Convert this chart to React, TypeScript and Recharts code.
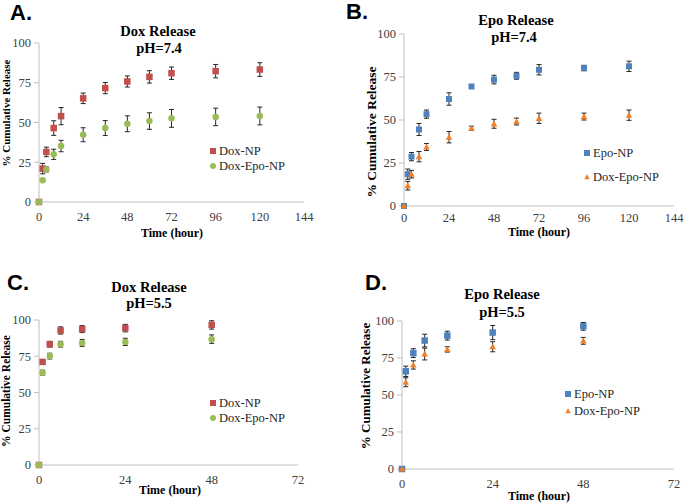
import React from "react";
import {
  ScatterChart,
  Scatter,
  XAxis,
  YAxis,
  ErrorBar,
} from "recharts";

// hours sampled
const hours74 = [0, 2, 4, 8, 12, 24, 36, 48, 60, 72, 96, 120];
const hours55 = [0, 1, 3, 6, 12, 24, 48];

// A: Dox release pH 7.4
const doxNP74 = [0, 21, 31.5, 46.5, 54, 65.2, 71.6, 75.8, 78.7, 81, 82.3, 83.3];
const doxNP74Err = [null, 3.3, 3, 4.6, 5.4, 3.3, 3.5, 3.5, 3.9, 3.9, 4.2, 4.3];
const doxEpo74 = [0, 13.7, 20.5, 30, 35.2, 42.3, 46.5, 49.2, 50.9, 52.6, 53.5, 54.1];
const doxEpo74Err = [null, 0.6, 1.6, 3.2, 3.6, 4.4, 4.7, 5, 5.2, 5.6, 5.5, 5.6];

// B: Epo release pH 7.4
const epoNP74 = [0, 18.5, 28.7, 44.5, 53.4, 62.2, 69.5, 73.5, 75.7, 79.2, 80.2, 81.2];
const epoNP74Err = [null, 3, 2.4, 3.5, 2.4, 3.6, null, 2.5, 2, 3, 1.6, 3];
const epoDox74 = [0, 11.8, 18.5, 28.7, 34.3, 40, 45.2, 47.8, 49.1, 51, 52, 52.8];
const epoDox74Err = [null, 2.5, 2.2, 3, 2, 3.3, 1.2, 2.6, 2, 3, 2, 3];

// C: Dox release pH 5.5
const doxNP55 = [0, 71.1, 83.3, 92.8, 93.7, 94.4, 96.6];
const doxNP55Err = [null, 1.6, 2, 2.5, 2.4, 2.6, 2.9];
const doxEpo55 = [0, 63.7, 75.1, 83.3, 84.2, 84.9, 86.8];
const doxEpo55Err = [null, 1.7, 2, 2, 2.4, 2.5, 2.9];

// D: Epo release pH 5.5
const epoNP55 = [0, 66, 78.3, 86.8, 90.1, 92.2, 96.4];
const epoNP55Err = [null, 3.5, 3, 4.3, 3, 4.8, 2.6];
const epoDox55 = [0, 58.6, 70.3, 77.7, 80.8, 82.6, 86.6];
const epoDox55Err = [null, 3, 2.8, 4, 1.8, 3.4, 2.3];

const yTicks = [0, 25, 50, 75, 100];
const xTicks74 = [0, 24, 48, 72, 96, 120, 144];
const xTicks55 = [0, 24, 48, 72];

const RED = "#C0504D";
const GREEN = "#9BBB59";
const BLUE = "#4F81BD";
const ORANGE = "#F07E26";
const SERIF = "Liberation Serif, Times New Roman, serif";

const rows = (t: number[], v: number[], e: (number | null)[]) =>
  t.map((x, i) => ({ t: x, v: v[i], e: e[i] }));

type Shape = "square" | "circle" | "triangle";

type Series = {
  name: string;
  color: string;
  shape: Shape;
  px: number;
  data: { t: number; v: number; e: number | null }[];
};

function Marker({ shape, color, px, cx, cy }: { shape: Shape; color: string; px: number; cx: number; cy: number }) {
  const h = px / 2;
  if (shape === "square") return <rect x={cx - h} y={cy - h} width={px} height={px} fill={color} />;
  if (shape === "circle") return <circle cx={cx} cy={cy} r={h} fill={color} />;
  return (
    <polygon
      points={`${cx},${cy - h} ${cx + h},${cy + h * 0.8} ${cx - h},${cy + h * 0.8}`}
      fill={color}
    />
  );
}

type PanelProps = {
  left: number;
  top: number;
  width: number;
  height: number;
  margin: { top: number; right: number; bottom: number; left: number };
  xTicks: number[];
  tickGap?: number;
  series: Series[];
};

function Panel({ left, top, width, height, margin, xTicks, tickGap = 10, series }: PanelProps) {
  const xMax = xTicks[xTicks.length - 1];
  return (
    <div style={{ position: "absolute", left, top }}>
      <ScatterChart width={width} height={height} margin={margin}>
        <XAxis
          type="number"
          dataKey="t"
          domain={[0, xMax]}
          ticks={xTicks}
          interval={0}
          height={25}
          tickSize={0}
          tickMargin={tickGap}
          stroke="#BFBFBF"
          tick={{ fill: "#404040", fontSize: 12.5, fontFamily: SERIF }}
        />
        <YAxis
          type="number"
          dataKey="v"
          domain={[0, 100]}
          ticks={yTicks}
          interval={0}
          width={30}
          tickSize={5}
          tickMargin={3}
          stroke="#BFBFBF"
          tick={{ fill: "#404040", fontSize: 12.5, fontFamily: SERIF }}
        />
        {series.map((s) => (
          <Scatter
            key={s.name}
            name={s.name}
            data={s.data}
            fill={s.color}
            shape={(p: any) => <Marker shape={s.shape} color={s.color} px={s.px} cx={p.cx} cy={p.cy} />}
            isAnimationActive={false}
          >
            <ErrorBar dataKey="e" direction="y" width={2.5} stroke="#262626" strokeWidth={1} />
          </Scatter>
        ))}
      </ScatterChart>
    </div>
  );
}

function Txt({
  x,
  y,
  children,
  size,
  bold,
  rotate,
  font = SERIF,
  color = "#000",
}: {
  x: number;
  y: number;
  children: React.ReactNode;
  size: number;
  bold?: boolean;
  rotate?: boolean;
  font?: string;
  color?: string;
}) {
  return (
    <div
      style={{
        position: "absolute",
        left: x,
        top: y,
        transform: `translate(-50%, -50%)${rotate ? " rotate(-90deg)" : ""}`,
        fontFamily: font,
        fontSize: size,
        fontWeight: bold ? 700 : 400,
        color,
        whiteSpace: "nowrap",
        lineHeight: 1,
      }}
    >
      {children}
    </div>
  );
}

function LegendBox({
  x,
  y,
  gap,
  textDx,
  items,
}: {
  x: number;
  y: number;
  gap: number;
  textDx: number;
  items: Series[];
}) {
  return (
    <>
      {items.map((s, i) => (
        <div key={s.name} style={{ position: "absolute", left: x, top: y + i * gap }}>
          <svg width={8} height={8} style={{ position: "absolute", left: -4, top: -4 }}>
            <Marker shape={s.shape} color={s.color} px={s.shape === "triangle" ? 5.5 : 6} cx={4} cy={4} />
          </svg>
          <div
            style={{
              position: "absolute",
              left: textDx,
              top: -7,
              fontFamily: SERIF,
              fontSize: 12.5,
              color: "#262626",
              whiteSpace: "nowrap",
              lineHeight: "14px",
            }}
          >
            {s.name}
          </div>
        </div>
      ))}
    </>
  );
}

export default function App() {
  const aSeries: Series[] = [
    { name: "Dox-NP", color: RED, shape: "square", px: 6.5, data: rows(hours74, doxNP74, doxNP74Err) },
    { name: "Dox-Epo-NP", color: GREEN, shape: "circle", px: 6.5, data: rows(hours74, doxEpo74, doxEpo74Err) },
  ];
  const bSeries: Series[] = [
    { name: "Epo-NP", color: BLUE, shape: "square", px: 6, data: rows(hours74, epoNP74, epoNP74Err) },
    { name: "Dox-Epo-NP", color: ORANGE, shape: "triangle", px: 6.5, data: rows(hours74, epoDox74, epoDox74Err) },
  ];
  const cSeries: Series[] = [
    { name: "Dox-NP", color: RED, shape: "square", px: 6.5, data: rows(hours55, doxNP55, doxNP55Err) },
    { name: "Dox-Epo-NP", color: GREEN, shape: "circle", px: 6.5, data: rows(hours55, doxEpo55, doxEpo55Err) },
  ];
  const dSeries: Series[] = [
    { name: "Epo-NP", color: BLUE, shape: "square", px: 6.5, data: rows(hours55, epoNP55, epoNP55Err) },
    { name: "Dox-Epo-NP", color: ORANGE, shape: "triangle", px: 6.5, data: rows(hours55, epoDox55, epoDox55Err) },
  ];

  const letterFont = "Liberation Sans, Arial, sans-serif";

  return (
    <div
      style={{
        position: "absolute",
        left: 0,
        top: 0,
        width: 685,
        height: 503,
        background: "#fff",
        overflow: "hidden",
      }}
    >
      {/* A */}
      <Panel
        left={0}
        top={0}
        width={340}
        height={250}
        margin={{ top: 43, right: 36, bottom: 23, left: 9 }}
        xTicks={xTicks74}
        series={aSeries}
      />
      <Txt x={21} y={13} size={22} bold font={letterFont}>A.</Txt>
      <Txt x={158} y={31} size={14.5} bold>Dox Release</Txt>
      <Txt x={159} y={48} size={14.5} bold>pH=7.4</Txt>
      <Txt x={6} y={113} size={11} bold rotate>% Cumulative Release</Txt>
      <Txt x={172} y={233} size={12} bold>Time (hour)</Txt>
      <LegendBox x={213} y={151} gap={15} textDx={6} items={aSeries} />

      {/* B */}
      <Panel
        left={340}
        top={0}
        width={345}
        height={250}
        margin={{ top: 34, right: 11, bottom: 19, left: 34 }}
        xTicks={xTicks74}
        tickGap={7}
        series={bSeries}
      />
      <Txt x={357} y={12} size={22} bold font={letterFont}>B.</Txt>
      <Txt x={516} y={20} size={14.5} bold>Epo Release</Txt>
      <Txt x={514} y={37} size={14.5} bold>pH=7.4</Txt>
      <Txt x={372} y={132} size={13.5} bold rotate>% Cumulative Release</Txt>
      <Txt x={539} y={232} size={12} bold>Time (hour)</Txt>
      <LegendBox x={587} y={153} gap={24} textDx={6} items={bSeries} />

      {/* C */}
      <Panel
        left={0}
        top={250}
        width={340}
        height={253}
        margin={{ top: 70, right: 42, bottom: 13, left: 9 }}
        xTicks={xTicks55}
        series={cSeries}
      />
      <Txt x={18} y={283} size={22} bold font={letterFont}>C.</Txt>
      <Txt x={149} y={287} size={14.5} bold>Dox Release</Txt>
      <Txt x={149} y={303} size={14.5} bold>pH=5.5</Txt>
      <Txt x={7} y={391} size={11.5} bold rotate>% Cumulative Release</Txt>
      <Txt x={170} y={490} size={12} bold>Time (hour)</Txt>
      <LegendBox x={213} y={403} gap={15} textDx={6} items={cSeries} />

      {/* D */}
      <Panel
        left={340}
        top={250}
        width={345}
        height={253}
        margin={{ top: 71, right: 11, bottom: 9, left: 32 }}
        xTicks={xTicks55}
        series={dSeries}
      />
      <Txt x={376} y={283} size={22} bold font={letterFont}>D.</Txt>
      <Txt x={502} y={294} size={14.5} bold>Epo Release</Txt>
      <Txt x={502} y={312} size={14.5} bold>pH=5.5</Txt>
      <Txt x={365} y={386} size={13} bold rotate>% Cumulative Release</Txt>
      <Txt x={539} y={496} size={12} bold>Time (hour)</Txt>
      <LegendBox x={568} y={394} gap={17} textDx={6} items={dSeries} />
    </div>
  );
}
